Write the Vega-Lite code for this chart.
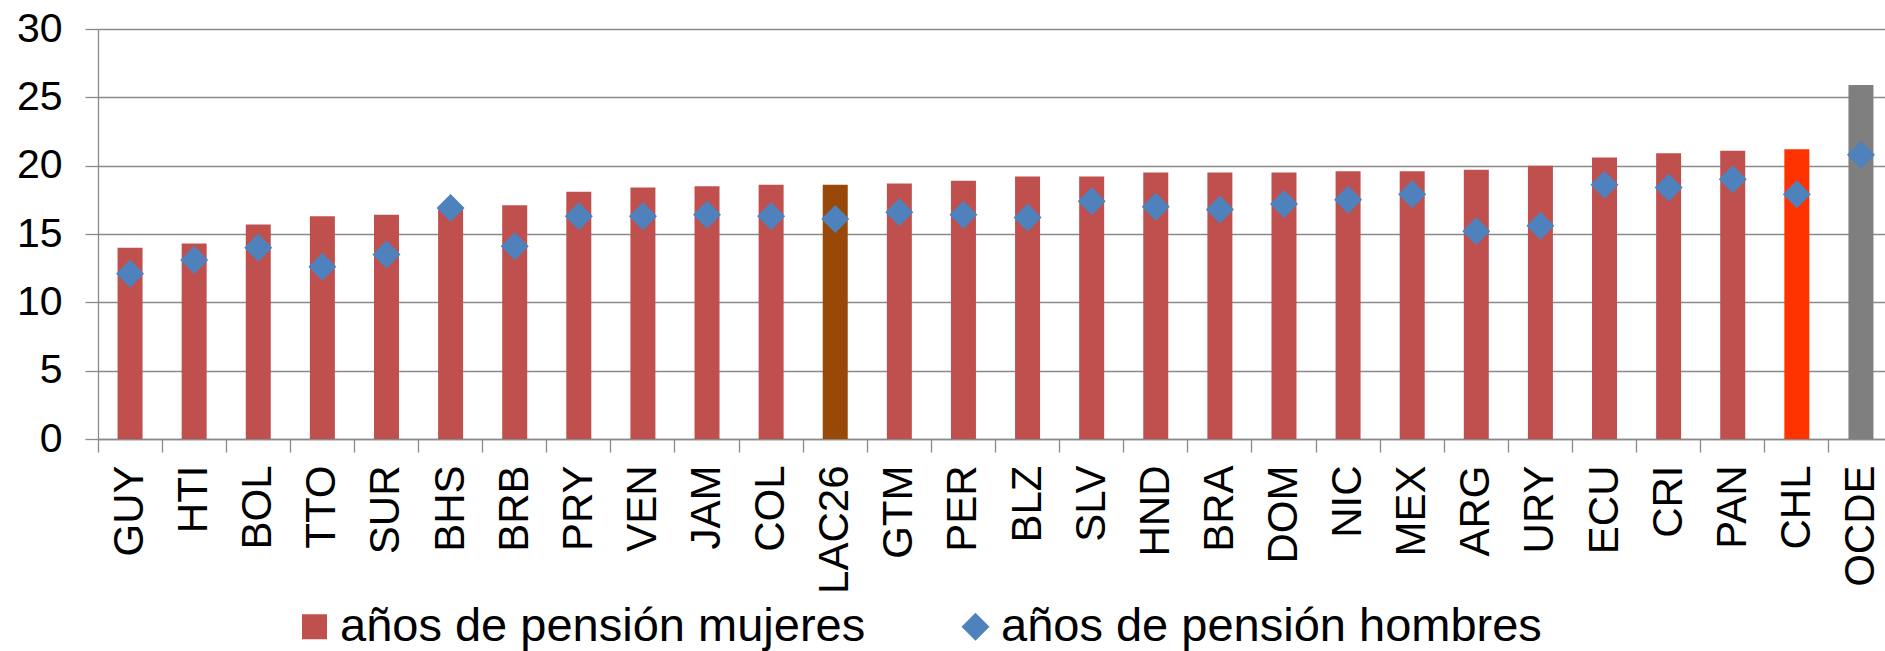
{
  "$schema": "https://vega.github.io/schema/vega-lite/v6.json",
  "autosize": "none",
  "padding": {"left": 98, "top": 29, "right": 0, "bottom": 212},
  "width": 1787,
  "height": 410,
  "background": "white",
  "config": {
    "font": "Liberation Sans",
    "view": {"stroke": null},
    "axis": {"labelFont": "Liberation Sans", "labelColor": "#000000"},
    "legend": {"labelFont": "Liberation Sans", "labelColor": "#000000"}
  },
  "data": {
    "values": [
      {"pais": "GUY", "mujeres": 14.0, "hombres": 12.1},
      {"pais": "HTI", "mujeres": 14.3, "hombres": 13.1},
      {"pais": "BOL", "mujeres": 15.7, "hombres": 14.0},
      {"pais": "TTO", "mujeres": 16.3, "hombres": 12.6},
      {"pais": "SUR", "mujeres": 16.4, "hombres": 13.5},
      {"pais": "BHS", "mujeres": 16.9, "hombres": 16.9},
      {"pais": "BRB", "mujeres": 17.1, "hombres": 14.1},
      {"pais": "PRY", "mujeres": 18.1, "hombres": 16.3},
      {"pais": "VEN", "mujeres": 18.4, "hombres": 16.3},
      {"pais": "JAM", "mujeres": 18.5, "hombres": 16.4},
      {"pais": "COL", "mujeres": 18.6, "hombres": 16.3},
      {"pais": "LAC26", "mujeres": 18.6, "hombres": 16.1},
      {"pais": "GTM", "mujeres": 18.7, "hombres": 16.6},
      {"pais": "PER", "mujeres": 18.9, "hombres": 16.4},
      {"pais": "BLZ", "mujeres": 19.2, "hombres": 16.2},
      {"pais": "SLV", "mujeres": 19.2, "hombres": 17.4},
      {"pais": "HND", "mujeres": 19.5, "hombres": 17.0},
      {"pais": "BRA", "mujeres": 19.5, "hombres": 16.8},
      {"pais": "DOM", "mujeres": 19.5, "hombres": 17.2},
      {"pais": "NIC", "mujeres": 19.6, "hombres": 17.5},
      {"pais": "MEX", "mujeres": 19.6, "hombres": 17.9},
      {"pais": "ARG", "mujeres": 19.7, "hombres": 15.2},
      {"pais": "URY", "mujeres": 20.0, "hombres": 15.6},
      {"pais": "ECU", "mujeres": 20.6, "hombres": 18.6},
      {"pais": "CRI", "mujeres": 20.9, "hombres": 18.4},
      {"pais": "PAN", "mujeres": 21.1, "hombres": 19.0},
      {"pais": "CHL", "mujeres": 21.2, "hombres": 17.9},
      {"pais": "OCDE", "mujeres": 25.9, "hombres": 20.8}
    ]
  },
  "encoding": {
    "x": {
      "field": "pais",
      "type": "nominal",
      "sort": null,
      "title": null,
      "scale": {"paddingInner": 0, "paddingOuter": 0, "range": [0, 1795]},
      "axis": {
        "bandPosition": 0,
        "labelOffset": 0,
        "labelAngle": -90,
        "labelAlign": "right",
        "labelBaseline": "middle",
        "labelFontSize": 42,
        "labelPadding": 13,
        "tickSize": 13,
        "tickColor": "#8a8a8a",
        "tickWidth": 1.3,
        "domainColor": "#8a8a8a",
        "domainWidth": 1.3,
        "grid": false
      }
    }
  },
  "layer": [
    {
      "mark": {"type": "bar", "width": 25},
      "encoding": {
        "y": {
          "field": "mujeres",
          "type": "quantitative",
          "title": null,
          "scale": {"domain": [0, 30]},
          "axis": {
            "values": [0, 5, 10, 15, 20, 25, 30],
            "labelFontSize": 41,
            "labelPadding": 23,
            "tickSize": 13,
            "tickColor": "#8a8a8a",
            "tickWidth": 1.3,
            "domainColor": "#8a8a8a",
            "domainWidth": 1.3,
            "grid": true,
            "gridColor": "#8a8a8a",
            "gridWidth": 1.3
          }
        },
        "color": {
          "datum": "años de pensión mujeres",
          "type": "nominal",
          "condition": [
            {"test": "datum.pais === 'LAC26'", "value": "#984807"},
            {"test": "datum.pais === 'CHL'", "value": "#FF3300"},
            {"test": "datum.pais === 'OCDE'", "value": "#7F7F7F"}
          ],
          "scale": {
            "domain": ["años de pensión mujeres", "años de pensión hombres"],
            "range": ["#C0504D", "#4F81BD"]
          },
          "legend": {
            "title": null,
            "orient": "none",
            "legendX": 193,
            "legendY": 574,
            "direction": "horizontal",
            "columns": 2,
            "columnPadding": 86,
            "padding": 0,
            "labelFontSize": 47,
            "labelOffset": 2,
            "symbolSize": 784,
            "symbolStrokeWidth": 0,
            "symbolOpacity": 1,
            "labelLimit": 1000,
            "encode": {
              "symbols": {
                "update": {
                  "shape": {"signal": "datum.value === 'años de pensión mujeres' ? 'square' : 'diamond'"},
                  "size": {"signal": "datum.value === 'años de pensión mujeres' ? 625 : 784"}
                }
              }
            }
          }
        }
      }
    },
    {
      "mark": {"type": "point", "shape": "diamond", "filled": true, "size": 784, "opacity": 1},
      "encoding": {
        "y": {"field": "hombres", "type": "quantitative"},
        "color": {"datum": "años de pensión hombres", "type": "nominal"}
      }
    }
  ]
}
